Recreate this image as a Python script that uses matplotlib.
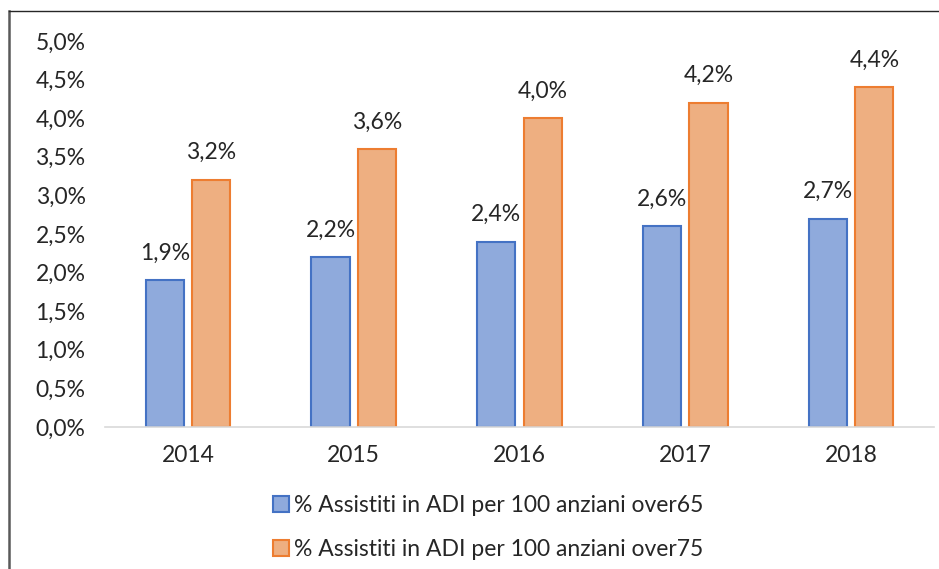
import numpy as np
import matplotlib.pyplot as plt
from matplotlib.lines import Line2D

years = ['2014', '2015', '2016', '2017', '2018']
over65 = [1.9, 2.2, 2.4, 2.6, 2.7]
over75 = [3.2, 3.6, 4.0, 4.2, 4.4]
labels = ['% Assistiti in ADI per 100 anziani over65',
          '% Assistiti in ADI per 100 anziani over75']

plt.rcParams['font.family'] = ['Lato', 'DejaVu Sans']
fs = 16.5

fig = plt.figure(figsize=(9.39, 5.69), dpi=100)
# axes: x from 105 to 934 px, y from 41 to 427 px
ax = fig.add_axes([105 / 939, (569 - 427) / 569, (934 - 105) / 939, (427 - 41) / 569])

x = np.arange(len(years))
w = 0.23
off = 0.14
b1 = ax.bar(x - off, over65, w, color='#8FAADC', edgecolor='#4472C4', linewidth=1.5, label=labels[0])
b2 = ax.bar(x + off, over75, w, color='#EEAF81', edgecolor='#ED7D31', linewidth=1.5, label=labels[1])

fmt = lambda v: ('%.1f%%' % v).replace('.', ',')
for bars, vals in ((b1, over65), (b2, over75)):
    for r, v in zip(bars, vals):
        ax.annotate(fmt(v), (r.get_x() + r.get_width() / 2, v), xytext=(0, 12),
                    textcoords='offset points', ha='center', va='bottom',
                    fontsize=fs, color='#262626')

ax.set_xlim(-0.5, len(years) - 0.5)
ax.set_ylim(0, 5.0)
ax.set_yticks(np.arange(0, 5.01, 0.5))
ax.set_yticklabels([fmt(v) for v in np.arange(0, 5.01, 0.5)])
ax.set_xticks(x)
ax.set_xticklabels(years)
ax.tick_params(axis='both', length=0, labelsize=fs, colors='#262626')
ax.tick_params(axis='y', pad=14)
ax.tick_params(axis='x', pad=13)
for s in ('top', 'right', 'left'):
    ax.spines[s].set_visible(False)
ax.spines['bottom'].set_color('#D9D9D9')
ax.spines['bottom'].set_linewidth(1.2)

fig.legend(loc='upper left', bbox_to_anchor=(264 / 939, 1 - 486 / 569), frameon=False,
           fontsize=fs, handlelength=0.7, handleheight=0.7, handletextpad=0.2,
           labelspacing=1.0, borderaxespad=0, labelcolor='#262626')

# outer border (top and left edges)
fig.add_artist(Line2D([9 / 939, 9 / 939], [0, 1 - 11 / 569], transform=fig.transFigure,
                      color='#595959', linewidth=1.8))
fig.add_artist(Line2D([9 / 939, 1], [1 - 11 / 569, 1 - 11 / 569], transform=fig.transFigure,
                      color='#262626', linewidth=1.0))

plt.savefig('out.png', dpi=100)
